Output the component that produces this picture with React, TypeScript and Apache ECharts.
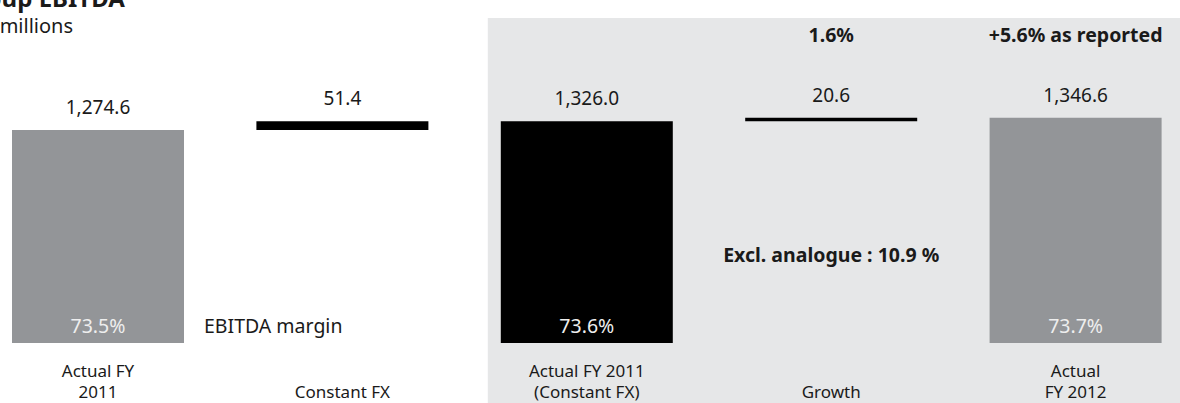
import React, { useEffect, useRef } from "react";
import * as echarts from "echarts";

// ---- data ----
const categories = ["Actual FY 2011", "Constant FX", "Actual FY 2011 (Constant FX)", "Growth", "Actual FY 2012"];
const axisLabels = ["Actual FY\n2011", "Constant FX", "Actual FY 2011\n(Constant FX)", "Growth", "Actual\nFY 2012"];
const values = [1274.6, 51.4, 1326.0, 20.6, 1346.6];
const kinds = ["total", "delta", "total", "delta", "total"];
const margins = ["73.5%", "", "73.6%", "", "73.7%"];
const title = "Group EBITDA";
const unit = "€ millions";
const marginNote = "EBITDA margin";
const growthNote = "1.6%";
const reportedNote = "+5.6% as reported";
const exclNote = "Excl. analogue : 10.9 %";

// ---- styles ----
const GRAY = "#939598";
const BLACK = "#000000";
const PANEL = "#e6e7e8";
const TEXT = "#1a1a1a";
const FONT = "Noto Sans";
const BAR_W = 172;
const barColors = kinds.map((k, i) => (k === "delta" ? BLACK : i === 2 ? BLACK : GRAY));

function buildBases(): number[] {
  let running = 0;
  return values.map((v, i) => {
    if (kinds[i] === "total") {
      running = v;
      return 0;
    }
    const b = running;
    running += v;
    return b;
  });
}

const fmt = (v: number) =>
  v.toLocaleString("en-US", { minimumFractionDigits: 1, maximumFractionDigits: 1 });

export default function App() {
  const ref = useRef<HTMLDivElement>(null);
  useEffect(() => {
    if (!ref.current) return;
    const chart = echarts.init(ref.current, null, { renderer: "svg" });
    const bases = buildBases();
    chart.setOption({
      animation: false,
      textStyle: { fontFamily: FONT },
      grid: {
        left: -24.2,
        right: -17.8,
        top: 8.6,
        bottom: 60,
        containLabel: false,
        outerBoundsMode: "none",
      },
      xAxis: {
        type: "category",
        data: categories,
        axisLine: { show: false },
        axisTick: { show: false },
        axisLabel: {
          interval: 0,
          formatter: (_v: string, i: number) => axisLabels[i],
          color: TEXT,
          fontSize: 17,
          fontFamily: FONT,
          lineHeight: 21,
          verticalAlign: "bottom",
          margin: 59,
        },
      },
      yAxis: { type: "value", min: 0, max: 2000, show: false, splitLine: { show: false } },
      series: [
        {
          type: "bar",
          stack: "wf",
          data: bases,
          barWidth: BAR_W,
          itemStyle: { color: "transparent" },
          silent: true,
        },
        {
          type: "bar",
          stack: "wf",
          barWidth: BAR_W,
          data: values.map((v, i) => ({ value: v, itemStyle: { color: barColors[i] } })),
          label: {
            show: true,
            position: "top",
            distance: 13,
            formatter: (p: any) => fmt(values[p.dataIndex]),
            color: TEXT,
            fontSize: 19,
            fontFamily: FONT,
            lineHeight: 20,
          },
        },
        {
          type: "bar",
          barWidth: BAR_W,
          barGap: "-100%",
          data: values.map((v, i) => (kinds[i] === "total" ? v : "-")),
          itemStyle: { color: "transparent" },
          label: {
            show: true,
            position: "insideBottom",
            distance: 8,
            formatter: (p: any) => margins[p.dataIndex],
            color: "#eeeeee",
            fontSize: 19.5,
            fontFamily: FONT,
            lineHeight: 20,
          },
          silent: true,
        },
      ],
    });

    const px = (i: number) => chart.convertToPixel({ xAxisIndex: 0 }, categories[i]) as number;
    const y0 = chart.convertToPixel({ yAxisIndex: 0 }, 0) as number;
    const panelLeft = px(2) - BAR_W / 2 - 13;

    chart.setOption({
      graphic: [
        {
          type: "rect",
          z: -10,
          silent: true,
          shape: { x: panelLeft, y: 18, width: 1180 - panelLeft, height: 403 - 18 },
          style: { fill: PANEL },
        },
        {
          type: "text",
          x: -41,
          y: 9,
          style: { text: title, fill: TEXT, font: `bold 24px ${FONT}`, textVerticalAlign: "bottom" },
        },
        {
          type: "text",
          x: -17,
          y: 25,
          style: { text: unit, fill: TEXT, font: `20px ${FONT}`, textVerticalAlign: "middle" },
        },
        {
          type: "text",
          x: px(0) + BAR_W / 2 + 20,
          y: y0 - 18,
          style: { text: marginNote, fill: TEXT, font: `19.5px ${FONT}`, textVerticalAlign: "middle" },
        },
        {
          type: "text",
          x: px(3),
          y: 34,
          style: { text: growthNote, fill: TEXT, font: `bold 19.5px ${FONT}`, textAlign: "center", textVerticalAlign: "middle" },
        },
        {
          type: "text",
          x: px(4),
          y: 34,
          style: { text: reportedNote, fill: TEXT, font: `bold 19.5px ${FONT}`, textAlign: "center", textVerticalAlign: "middle" },
        },
        {
          type: "text",
          x: px(3),
          y: 254,
          style: { text: exclNote, fill: TEXT, font: `bold 19.5px ${FONT}`, textAlign: "center", textVerticalAlign: "middle" },
        },
      ],
    });
    return () => chart.dispose();
  }, []);
  return (
    <div
      ref={ref}
      style={{ position: "fixed", left: 0, top: 0, width: 1180, height: 403, background: "#ffffff" }}
    />
  );
}
